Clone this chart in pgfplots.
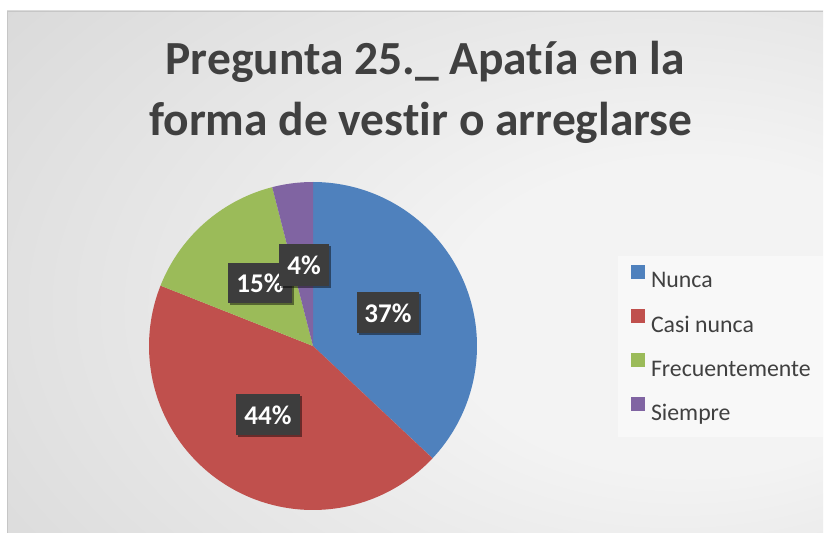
\documentclass[border=0pt]{standalone}
\usepackage{pgfplots}
\pgfplotsset{compat=1.18}
\usepackage{pgfplotstable}
\usepackage{fontspec}
\setmainfont{Carlito}[Ligatures=NoCommon]
\usetikzlibrary{shadows}
\definecolor{cA}{HTML}{4F81BD}
\definecolor{cB}{HTML}{C0504D}
\definecolor{cC}{HTML}{9BBB59}
\definecolor{cD}{HTML}{8064A2}
\definecolor{titlegray}{HTML}{404040}
\definecolor{legendgray}{HTML}{404040}
\definecolor{boxgray}{HTML}{3D3D3D}
\definecolor{bgin}{HTML}{F3F3F3}
\definecolor{bgout}{HTML}{C2C2C2}
\pgfdeclareradialshading{bgshade}{\pgfpoint{20bp}{-5bp}}{color(0bp)=(bgin); color(15bp)=(bgin); color(75bp)=(bgout); color(100bp)=(bgout)}
\pgfplotstableread{
idx value
0 37
1 44
2 15
3 4
}\piedata
\pgfplotstablegetelem{0}{value}\of\piedata\let\vA\pgfplotsretval%
\pgfplotstablegetelem{1}{value}\of\piedata\let\vB\pgfplotsretval%
\pgfplotstablegetelem{2}{value}\of\piedata\let\vC\pgfplotsretval%
\pgfplotstablegetelem{3}{value}\of\piedata\let\vD\pgfplotsretval%
\pgfmathsetmacro\aA{90}%
\pgfmathsetmacro\aB{\aA-3.6*\vA}%
\pgfmathsetmacro\aC{\aB-3.6*\vB}%
\pgfmathsetmacro\aD{\aC-3.6*\vC}%
\pgfmathsetmacro\aE{\aD-3.6*\vD}%
\begin{document}%
\begin{tikzpicture}
\useasboundingbox (0,0) rectangle (825pt,533pt);
\fill[white] (0,0) rectangle (825pt,533pt);
\shade[shading=bgshade] (7pt,0pt) rectangle (823pt,522pt);
\draw[gray!45, line width=0.6pt] (7pt,0pt) -- (7pt,522pt) -- (823pt,522pt);
\fill[white, opacity=0.45] (618pt,96pt) rectangle (823pt,277pt);
\node[font=\bfseries\fontsize{47.5}{52}\selectfont, text=titlegray, anchor=base] at (425pt,458pt) {Pregunta 25.\_ Apatía en la};
\node[font=\bfseries\fontsize{47.5}{52}\selectfont, text=titlegray, anchor=base] at (421pt,397pt) {forma de vestir o arreglarse};
\begin{axis}[at={(0,0)}, anchor=south west, scale only axis,
  width=825pt, height=533pt, xmin=0, xmax=825, ymin=0, ymax=533,
  hide axis, clip=false,
  legend image code/.code={\fill[#1, draw=none] (0pt,1pt) rectangle (14pt,15pt);},
  legend style={at={(axis cs:631,268)}, anchor=north west, fill=none, draw=none,
    font=\fontsize{23.8}{28}\selectfont, text=legendgray, row sep=21.1pt, column sep=6pt,
    inner sep=0pt, outer sep=0pt,
    nodes={inner sep=0pt, outer sep=0pt, text height=16pt, text depth=0pt}},
  legend cell align=left,
  ]
\addplot[fill=cA, draw=none, domain=\aB:\aA, samples=90] ({313+164*cos(x)},{187+164*sin(x)}) -- (axis cs:313,187) -- cycle;
\addlegendentry{Nunca}
\addplot[fill=cB, draw=none, domain=\aC:\aB, samples=90] ({313+164*cos(x)},{187+164*sin(x)}) -- (axis cs:313,187) -- cycle;
\addlegendentry{Casi nunca}
\addplot[fill=cC, draw=none, domain=\aD:\aC, samples=40] ({313+164*cos(x)},{187+164*sin(x)}) -- (axis cs:313,187) -- cycle;
\addlegendentry{Frecuentemente}
\addplot[fill=cD, draw=none, domain=\aE:\aD, samples=15] ({313+164*cos(x)},{187+164*sin(x)}) -- (axis cs:313,187) -- cycle;
\addlegendentry{Siempre}
\end{axis}
\tikzset{lbl/.style={fill=boxgray, text=white, font=\bfseries\fontsize{27}{30}\selectfont, inner sep=0pt,
  drop shadow={shadow xshift=2pt, shadow yshift=-2pt, opacity=0.45, fill=black}}}
\node[lbl, minimum width=62pt, minimum height=41pt] at (388pt,220pt) {37\%};
\node[lbl, minimum width=64pt, minimum height=41pt] at (268pt,118pt) {44\%};
\node[lbl, minimum width=64pt, minimum height=40pt] at (260pt,250pt) {15\%};
\node[lbl, minimum width=50pt, minimum height=42pt] at (304pt,268pt) {4\%};
\end{tikzpicture}%
\end{document}
